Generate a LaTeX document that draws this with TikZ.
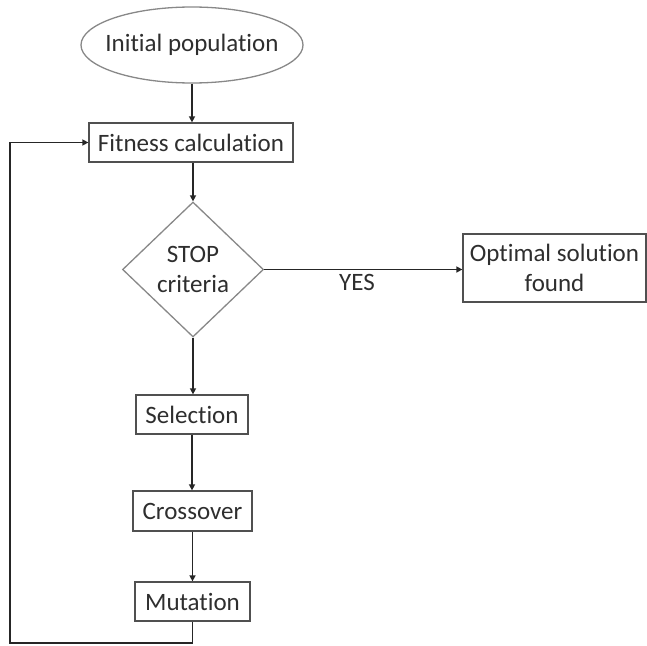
\documentclass[tikz,border=0pt]{standalone}
\usepackage{fontspec}
\setmainfont[Ligatures=NoCommon]{Carlito}
\usetikzlibrary{shapes.geometric,arrows.meta}
\definecolor{txt}{HTML}{2E2E2E}
\definecolor{edge}{HTML}{505050}
\definecolor{soft}{HTML}{888888}
\begin{document}
\begin{tikzpicture}[x=1pt,y=-1pt,
  every node/.style={font=\fontsize{25}{29.5}\selectfont, text=txt, inner sep=0pt},
  boxnode/.style={draw=edge, line width=1.3pt, rectangle},
  ovalnode/.style={draw=soft, line width=1.3pt, ellipse},
  decnode/.style={draw=soft, line width=1.3pt, diamond, align=center},
  flow/.style={draw=black!85, line width=1.6pt, -{Triangle[length=6pt,width=6pt]}}]
\useasboundingbox (0,0) rectangle (647,645);
\node[ovalnode, minimum width=222pt, minimum height=76pt] (init) at (192,45) {};
\node (initlbl) at (init.center) {Initial population};
\node[boxnode, minimum width=204pt, minimum height=39pt] (fit) at (191,142.5) {Fitness calculation};
\node[decnode, minimum width=141pt, minimum height=135pt] (stop) at (193,269.5) {STOP\\criteria};
\node[boxnode, minimum width=183pt, minimum height=68pt, align=center] (opt) at (554.5,268) {Optimal solution\\found};
\node[boxnode, minimum width=112pt, minimum height=39pt] (sel) at (192,414.5) {Selection};
\node[boxnode, minimum width=119pt, minimum height=40pt] (cro) at (192.5,511) {Crossover};
\node[boxnode, minimum width=115pt, minimum height=39pt] (mut) at (192.5,601.5) {Mutation};
\node (yes) at (357,282) {YES};
\coordinate (c1) at (192.5,643);
\coordinate (c2) at (10,643);
\coordinate (c3) at (10,142.5);
\draw[flow] (init.south) -- (init.south |- fit.north);
\draw[flow] (fit.south -| stop.north) -- (stop.north);
\draw[flow] (stop.east) -- (stop.east -| opt.west);
\draw[flow] (stop.south) -- (stop.south |- sel.north);
\draw[flow] (sel.south) -- (sel.south |- cro.north);
\draw[flow] (cro.south) -- (cro.south |- mut.north);
\draw[flow] (mut.south) -- (c1) -- (c2) -- (c3) -- (fit.west);
\end{tikzpicture}
\end{document}
